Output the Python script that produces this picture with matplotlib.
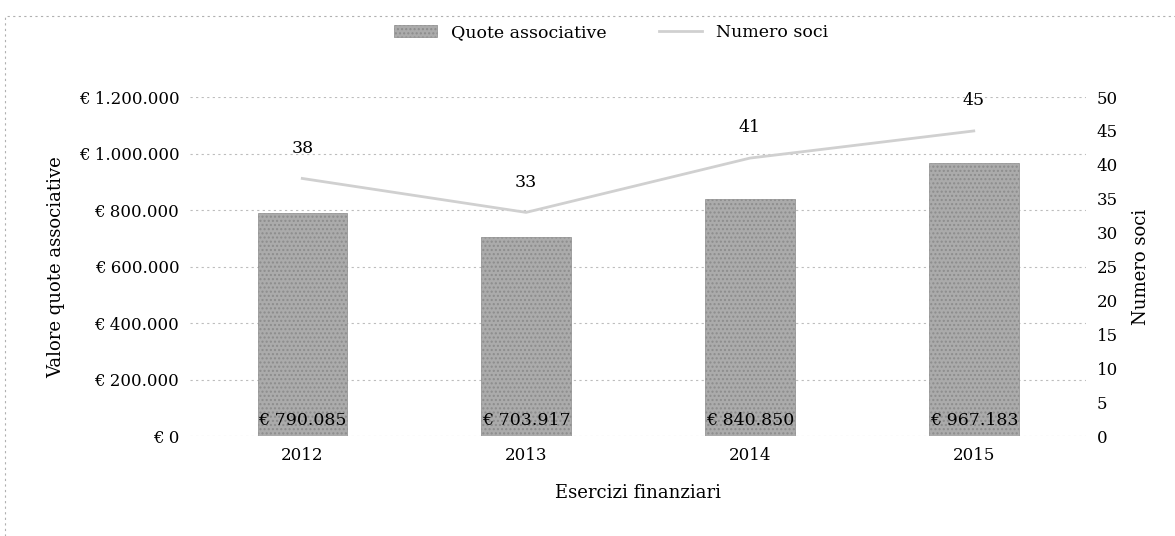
import numpy as np
from matplotlib import pyplot as plt
from matplotlib.patches import Rectangle

years = ['2012', '2013', '2014', '2015']
quote = [790085, 703917, 840850, 967183]
soci = [38, 33, 41, 45]

def euro(v):
    return '€ ' + f'{int(v):,}'.replace(',', '.')

plt.rcParams['font.family'] = ['DejaVu Serif']
plt.rcParams['font.size'] = 12

fig = plt.figure(figsize=(11.75, 5.36), dpi=100)
ax = fig.add_axes([0.162, 0.186, 0.762, 0.633])
ax2 = ax.twinx()

x = np.arange(len(years))
bars = ax.bar(x, quote, width=0.4, color='#ababab', edgecolor='#8c8c8c',
              hatch='....', linewidth=0.5, label='Quote associative', zorder=2)
for b, v in zip(bars, quote):
    ax.text(b.get_x() + b.get_width() / 2, 25000, euro(v), ha='center', va='bottom',
            fontsize=12.5, color='black', zorder=3)

ax.set_ylim(0, 1200000)
ax.set_yticks(np.arange(0, 1200001, 200000))
ax.set_yticklabels([euro(v) for v in ax.get_yticks()])
ax.set_xlim(-0.5, 3.5)
ax.set_xticks(x)
ax.set_xticklabels(years)
ax.grid(axis='y', color='#bdbdbd', linestyle=(0, (2, 3)), linewidth=0.8, zorder=0)
ax.set_axisbelow(True)
ax.set_ylabel('Valore quote associative', fontsize=13, labelpad=10)
ax.set_xlabel('Esercizi finanziari', fontsize=13, labelpad=14)

line, = ax2.plot(x, soci, color='#d0d0d0', linewidth=2, label='Numero soci', zorder=4)
for xi, s in zip(x, soci):
    ax2.text(xi, s + 3.2, str(s), ha='center', va='bottom', fontsize=12.5)
ax2.set_ylim(0, 50)
ax2.set_yticks(np.arange(0, 51, 5))
ax2.set_ylabel('Numero soci', fontsize=13, labelpad=10)

for a in (ax, ax2):
    for sp in a.spines.values():
        sp.set_visible(False)
    a.tick_params(length=0, pad=8)

fig.legend(handles=[bars, line], loc='upper center', bbox_to_anchor=(0.52, 0.985),
           ncol=2, frameon=False, fontsize=12.5, columnspacing=3, handlelength=2.5)

fig.add_artist(Rectangle((0.004, -0.1), 1.2, 1.07, transform=fig.transFigure,
                         fill=False, edgecolor='#b0b0b0', linestyle=(0, (2, 3)), linewidth=0.8))

fig.savefig('out.png', dpi=100)
